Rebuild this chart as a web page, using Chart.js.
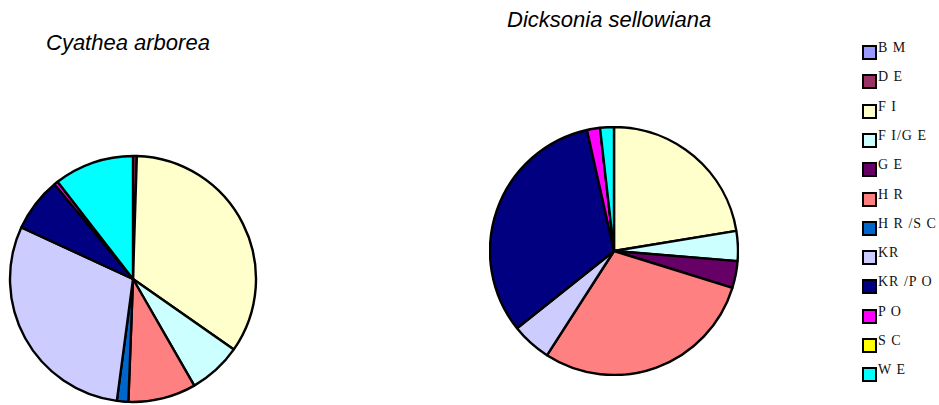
<!DOCTYPE html>
<html>
<head>
<meta charset="utf-8">
<script src="https://cdn.jsdelivr.net/npm/chart.js@4.4.0/dist/chart.umd.min.js"></script>
<style>
  body { margin: 0; background: #fff; width: 939px; height: 405px; position: relative; overflow: hidden; }
  canvas { position: absolute; }
  .titulo { position: absolute; font: italic 22px/22px "Liberation Sans", Arial, sans-serif; color: #000; white-space: nowrap; }
  #legenda { position: absolute; left: 862px; top: 45px; }
  .item { position: absolute; left: 0; white-space: nowrap; }
  .caixa { position: absolute; left: 0; top: 0; width: 11px; height: 11px; border: 2px solid #000; }
  .rotulo { position: absolute; left: 16px; top: -4px; font: 14px/14px "Liberation Serif", "Times New Roman", serif; letter-spacing: 1px; color: #111; }
</style>
</head>
<body>
<div class="titulo" style="left:46px; top:32px;">Cyathea arborea</div>
<div class="titulo" style="left:507px; top:9px;">Dicksonia sellowiana</div>
<canvas id="pieCyathea" width="250" height="250" style="left:8px; top:154px;"></canvas>
<canvas id="pieDicksonia" width="250" height="250" style="left:489px; top:126px;"></canvas>
<div id="legenda"></div>

<script>
// ========================================
// DADOS (% por categoria)
// ========================================
const categorias = ['BM', 'DE', 'FI', 'FI/GE', 'GE', 'HR', 'HR/SC', 'KR', 'KR/PO', 'PO', 'SC', 'WE'];
const rotulosLegenda = ['B M', 'D E', 'F I', 'F I/G E', 'G E', 'H R', 'H R /S C', 'KR', 'KR /P O', 'P O', 'S C', 'W E'];
const cores = ['#9999FF', '#993366', '#FFFFCC', '#CCFFFF', '#660066', '#FF8080',
               '#0066CC', '#CCCCFF', '#000080', '#FF00FF', '#FFFF00', '#00FFFF'];

const valoresCyathea   = [0, 0.5, 34.2, 7.0, 0, 8.9, 1.5, 29.8, 7.1, 0.5, 0, 10.5];
const valoresDicksonia = [0, 0, 22.4, 3.9, 3.5, 29.3, 0, 5.2, 32.2, 1.7, 0, 1.8];

// ========================================
// GRÁFICOS
// ========================================
function criarPizza(id, valores, raio) {
    return new Chart(document.getElementById(id), {
        type: 'pie',
        data: {
            labels: categorias,
            datasets: [{
                data: valores,
                backgroundColor: cores,
                borderColor: '#000',
                borderWidth: 2.4,
                radius: raio
            }]
        },
        options: {
            responsive: false,
            animation: false,
            layout: { padding: 0 },
            plugins: {
                legend: { display: false },
                tooltip: { enabled: false }
            }
        }
    });
}

criarPizza('pieCyathea', valoresCyathea, 123);
criarPizza('pieDicksonia', valoresDicksonia, 124);

// Legenda comum às duas pizzas
const legenda = document.getElementById('legenda');
legenda.innerHTML = categorias.map((c, i) => `
    <div class="item" style="top:${(i * 29.3).toFixed(1)}px">
        <div class="caixa" style="background:${cores[i]}"></div>
        <span class="rotulo">${rotulosLegenda[i]}</span>
    </div>
`).join('');
</script>
</body>
</html>
